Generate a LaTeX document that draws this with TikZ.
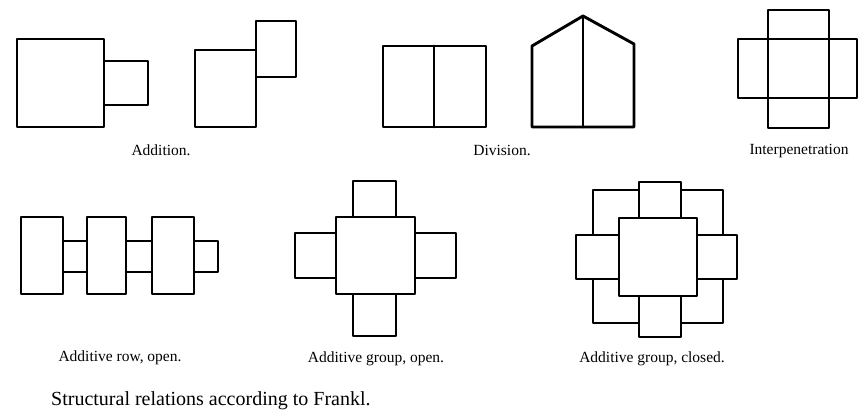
\documentclass[tikz,border=0pt]{standalone}
\usepackage{fontspec}
\setmainfont{Liberation Serif}
\begin{document}
\begin{tikzpicture}[x=1pt,y=-1pt,
  fig/.style={line width=2.9pt,line join=round,line cap=round},
  wfig/.style={fig,fill=white},
  lbl/.style={font=\fontsize{15.5}{17}\selectfont,inner sep=0pt,anchor=base},
  captxt/.style={font=\fontsize{20}{22}\selectfont,inner sep=0pt,anchor=base west}]
\useasboundingbox (0,0) rectangle (866,417);
% Addition
\draw[fig] (17,39) rectangle (104,127);
\draw[fig] (104,61) rectangle (148,105);
\draw[fig] (195,50) rectangle (256,127);
\draw[fig] (256,21) rectangle (296,77);
\node[lbl] (laddition) at (161,155) {Addition.};
% Division
\draw[fig] (383,46) rectangle (486,127);
\draw[fig] (434,46) -- (434,127);
\draw[fig] (532,127) -- (532,46) -- (583,16) -- (634,44) -- (634,127) -- cycle;
\draw[fig] (583,16) -- (583,127);
\node[lbl] (ldivision) at (502,155) {Division.};
% Interpenetration
\draw[fig] (738,39) rectangle (857,98);
\draw[fig] (768,10) rectangle (829,128);
\node[lbl] (linter) at (799,154) {Interpenetration};
% Additive row, open
\draw[fig] (21,217) rectangle (63,294);
\draw[fig] (63,241) rectangle (87,272);
\draw[fig] (87,217) rectangle (126,294);
\draw[fig] (126,241) rectangle (152,272);
\draw[fig] (152,217) rectangle (194,294);
\draw[fig] (194,241) rectangle (218,272);
\node[lbl] (lrow) at (120,361) {Additive row, open.};
% Additive group, open
\draw[fig] (353,181) rectangle (396,217);
\draw[fig] (353,294) rectangle (396,336);
\draw[fig] (295,233) rectangle (336,278);
\draw[fig] (415,233) rectangle (456,278);
\draw[fig] (336,217) rectangle (415,294);
\node[lbl] (lgopen) at (376,362) {Additive group, open.};
% Additive group, closed
\draw[fig] (593,190) rectangle (723,323);
\draw[wfig] (639,182) rectangle (681,218);
\draw[wfig] (639,296) rectangle (681,337);
\draw[wfig] (576,235) rectangle (619,279);
\draw[wfig] (697,235) rectangle (737,279);
\draw[wfig] (619,218) rectangle (697,296);
\node[lbl] (lgclosed) at (652,362) {Additive group, closed.};
% Caption
\node[captxt] (caption) at (51,405) {Structural relations according to Frankl.};
\end{tikzpicture}
\end{document}
